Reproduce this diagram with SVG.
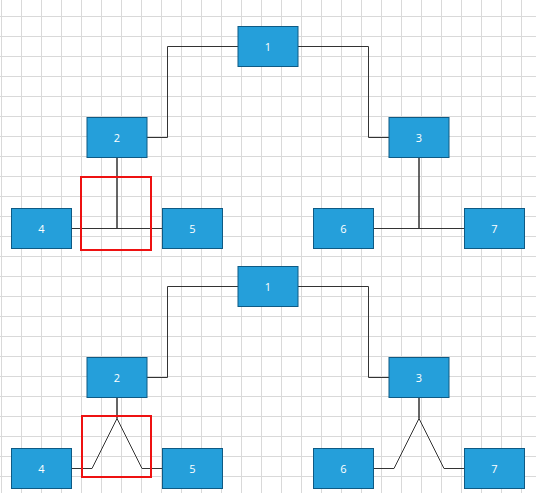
<svg xmlns="http://www.w3.org/2000/svg" width="536" height="493" viewBox="0 0 536 493">
<style>
.grid{fill:none;stroke:#d9d9d9;stroke-width:1}
.node rect{fill:#259fda;stroke:#0e5a84;stroke-width:1}
.node text{fill:#ffffff;font-family:"Open Sans","Noto Sans",sans-serif;font-size:11px;text-anchor:middle;dominant-baseline:central}
.conn path{fill:none;stroke:#333333;stroke-width:1}
.sel{fill:none;stroke:#ee1111;stroke-width:2}
</style>
<rect width="536" height="493" fill="#ffffff"/>
<path class="grid" d="M1.5 0V493M21.5 0V493M41.5 0V493M61.5 0V493M81.5 0V493M101.5 0V493M121.5 0V493M141.5 0V493M161.5 0V493M181.5 0V493M201.5 0V493M221.5 0V493M241.5 0V493M261.5 0V493M281.5 0V493M301.5 0V493M321.5 0V493M341.5 0V493M361.5 0V493M381.5 0V493M401.5 0V493M421.5 0V493M441.5 0V493M461.5 0V493M481.5 0V493M501.5 0V493M521.5 0V493M0 16.5H536M0 36.5H536M0 56.5H536M0 76.5H536M0 96.5H536M0 116.5H536M0 136.5H536M0 156.5H536M0 176.5H536M0 196.5H536M0 216.5H536M0 236.5H536M0 256.5H536M0 276.5H536M0 296.5H536M0 316.5H536M0 336.5H536M0 356.5H536M0 376.5H536M0 396.5H536M0 416.5H536M0 436.5H536M0 456.5H536M0 476.5H536"/>
<g id="connectors" class="conn">
<path d="M238 46.5H167.5V137.5H147"/>
<path d="M298 46.5H368.5V137.5H389"/>
<path d="M117 157.5V228.5H71.5"/>
<path d="M117 157.5V228.5H162.5"/>
<path d="M419 157.5V228.5H373.5"/>
<path d="M419 157.5V228.5H464.5"/>
<path d="M238 286.5H167.5V377.5H147"/>
<path d="M298 286.5H368.5V377.5H389"/>
<path d="M117 397.5V418.5L92 468.5H71.5"/>
<path d="M117 397.5V418.5L142 468.5H162.5"/>
<path d="M419 397.5V418.5L394 468.5H373.5"/>
<path d="M419 397.5V418.5L444 468.5H464.5"/>
</g>
<g id="n1"><g class="node"><rect x="238" y="26.5" width="60" height="40"/><text x="268" y="46.5">1</text></g></g>
<g id="n2"><g class="node"><rect x="87" y="117.5" width="60" height="40"/><text x="117" y="137.5">2</text></g></g>
<g id="n3"><g class="node"><rect x="389" y="117.5" width="60" height="40"/><text x="419" y="137.5">3</text></g></g>
<g id="n4"><g class="node"><rect x="11.5" y="208.5" width="60" height="40"/><text x="41.5" y="228.5">4</text></g></g>
<g id="n5"><g class="node"><rect x="162.5" y="208.5" width="60" height="40"/><text x="192.5" y="228.5">5</text></g></g>
<g id="n6"><g class="node"><rect x="313.5" y="208.5" width="60" height="40"/><text x="343.5" y="228.5">6</text></g></g>
<g id="n7"><g class="node"><rect x="464.5" y="208.5" width="60" height="40"/><text x="494.5" y="228.5">7</text></g></g>
<g id="m1"><g class="node"><rect x="238" y="266.5" width="60" height="40"/><text x="268" y="286.5">1</text></g></g>
<g id="m2"><g class="node"><rect x="87" y="357.5" width="60" height="40"/><text x="117" y="377.5">2</text></g></g>
<g id="m3"><g class="node"><rect x="389" y="357.5" width="60" height="40"/><text x="419" y="377.5">3</text></g></g>
<g id="m4"><g class="node"><rect x="11.5" y="448.5" width="60" height="40"/><text x="41.5" y="468.5">4</text></g></g>
<g id="m5"><g class="node"><rect x="162.5" y="448.5" width="60" height="40"/><text x="192.5" y="468.5">5</text></g></g>
<g id="m6"><g class="node"><rect x="313.5" y="448.5" width="60" height="40"/><text x="343.5" y="468.5">6</text></g></g>
<g id="m7"><g class="node"><rect x="464.5" y="448.5" width="60" height="40"/><text x="494.5" y="468.5">7</text></g></g>
<g id="selections">
<rect class="sel" x="81" y="177" width="70" height="73"/>
<rect class="sel" x="82" y="416" width="69" height="61"/>
</g>
</svg>
